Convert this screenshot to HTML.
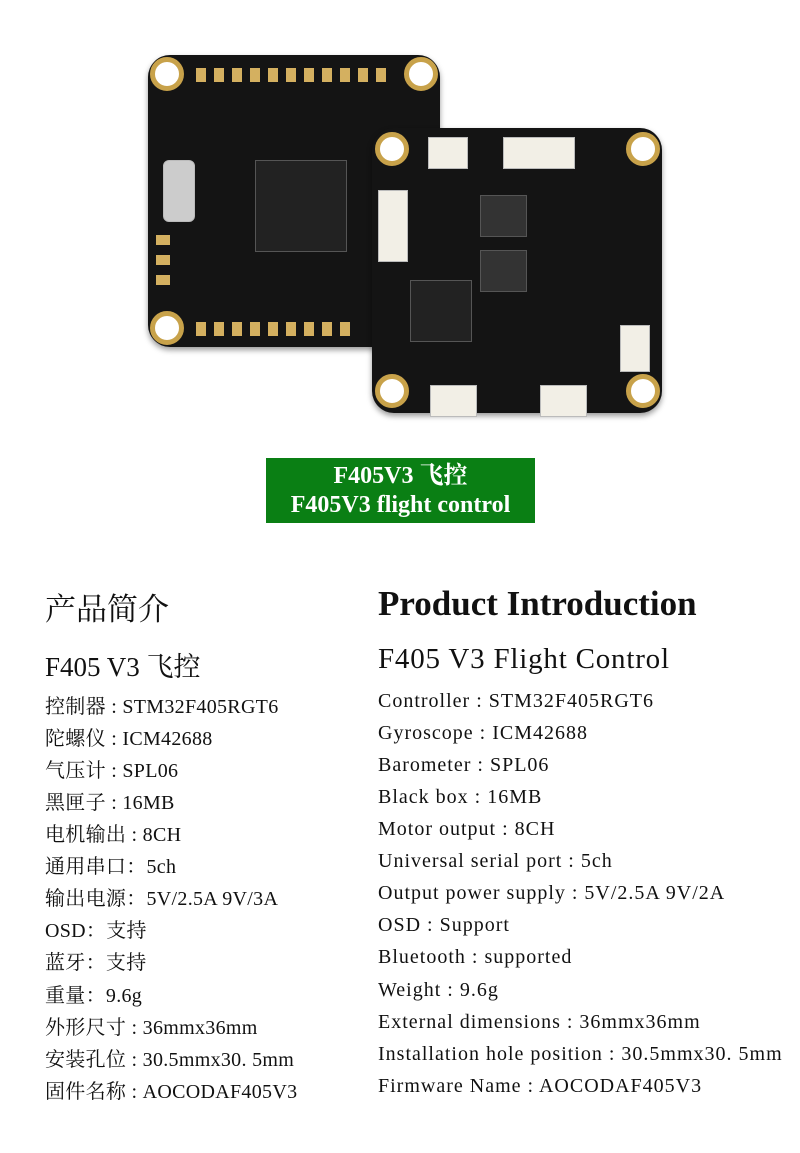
<!DOCTYPE html>
<html><head><meta charset="utf-8"><style>
body{margin:0;background:#fff;width:800px;height:1153px;position:relative;overflow:hidden;font-family:"Liberation Serif","Noto Serif CJK SC",serif;color:#111}
.a{position:absolute;white-space:nowrap}
.board{position:absolute;background:#141414;border-radius:22px;box-shadow:0 3px 6px rgba(0,0,0,.4)}
.hole{position:absolute;width:34px;height:34px;border-radius:50%;background:#fff;border:5px solid #c8a24a;box-sizing:border-box}
.pad{position:absolute;width:10px;height:14px;background:#d4b060}
.chip{position:absolute;background:#222;border:1px solid #555}
.conn{position:absolute;background:#f2efe6;border:1px solid #bbb}
.spec{font-size:20px;left:45px;letter-spacing:0.3px}
.spec2{font-size:20px;left:378px;letter-spacing:1px}
</style></head><body>
<div class="board" style="left:148px;top:55px;width:292px;height:292px"></div>
<div class="hole" style="left:150px;top:57px"></div>
<div class="hole" style="left:404px;top:57px"></div>
<div class="hole" style="left:150px;top:311px"></div>
<div class="pad" style="left:196px;top:68px"></div><div class="pad" style="left:214px;top:68px"></div><div class="pad" style="left:232px;top:68px"></div><div class="pad" style="left:250px;top:68px"></div><div class="pad" style="left:268px;top:68px"></div><div class="pad" style="left:286px;top:68px"></div><div class="pad" style="left:304px;top:68px"></div><div class="pad" style="left:322px;top:68px"></div><div class="pad" style="left:340px;top:68px"></div><div class="pad" style="left:358px;top:68px"></div><div class="pad" style="left:376px;top:68px"></div>
<div class="pad" style="left:196px;top:322px"></div><div class="pad" style="left:214px;top:322px"></div><div class="pad" style="left:232px;top:322px"></div><div class="pad" style="left:250px;top:322px"></div><div class="pad" style="left:268px;top:322px"></div><div class="pad" style="left:286px;top:322px"></div><div class="pad" style="left:304px;top:322px"></div><div class="pad" style="left:322px;top:322px"></div><div class="pad" style="left:340px;top:322px"></div>
<div class="pad" style="left:156px;top:235px;width:14px;height:10px"></div><div class="pad" style="left:156px;top:255px;width:14px;height:10px"></div><div class="pad" style="left:156px;top:275px;width:14px;height:10px"></div>
<div class="conn" style="left:163px;top:160px;width:30px;height:60px;background:#ccc;border-radius:6px"></div>
<div class="chip" style="left:255px;top:160px;width:90px;height:90px"></div>
<div class="board" style="left:372px;top:128px;width:290px;height:285px"></div>
<div class="hole" style="left:375px;top:132px"></div>
<div class="hole" style="left:626px;top:132px"></div>
<div class="hole" style="left:375px;top:374px"></div>
<div class="hole" style="left:626px;top:374px"></div>
<div class="conn" style="left:428px;top:137px;width:38px;height:30px"></div>
<div class="conn" style="left:503px;top:137px;width:70px;height:30px"></div>
<div class="conn" style="left:378px;top:190px;width:28px;height:70px"></div>
<div class="conn" style="left:620px;top:325px;width:28px;height:45px"></div>
<div class="conn" style="left:430px;top:385px;width:45px;height:30px"></div>
<div class="conn" style="left:540px;top:385px;width:45px;height:30px"></div>
<div class="chip" style="left:480px;top:195px;width:45px;height:40px;background:#333"></div>
<div class="chip" style="left:480px;top:250px;width:45px;height:40px;background:#333"></div>
<div class="chip" style="left:410px;top:280px;width:60px;height:60px"></div>
<div style="position:absolute;left:266px;top:458px;width:269px;height:65px;background:#0a7f14"></div>
<div class="a" style="left:266px;width:269px;top:462px;text-align:center;color:#fff;font-size:24px;line-height:29px;font-weight:bold">F405V3 飞控<br>F405V3 flight control</div>
<div class="a" style="left:45px;top:584px;font-size:31px">产品简介</div>
<div class="a" style="left:378px;top:584px;font-size:35px;font-weight:bold">Product Introduction</div>
<div class="a" style="left:45px;top:645px;font-size:27px">F405 V3 飞控</div>
<div class="a" style="left:378px;top:643px;font-size:29px;letter-spacing:0.8px">F405 V3 Flight Control</div>
<div class="a spec" style="top:690px">控制器 : STM32F405RGT6</div>
<div class="a spec" style="top:722px">陀螺仪 : ICM42688</div>
<div class="a spec" style="top:754px">气压计 : SPL06</div>
<div class="a spec" style="top:786px">黑匣子 : 16MB</div>
<div class="a spec" style="top:818px">电机输出 : 8CH</div>
<div class="a spec" style="top:850px">通用串口：5ch</div>
<div class="a spec" style="top:882px">输出电源：5V/2.5A 9V/3A</div>
<div class="a spec" style="top:914px">OSD：支持</div>
<div class="a spec" style="top:946px">蓝牙：支持</div>
<div class="a spec" style="top:979px">重量：9.6g</div>
<div class="a spec" style="top:1011px">外形尺寸 : 36mmx36mm</div>
<div class="a spec" style="top:1043px">安装孔位 : 30.5mmx30. 5mm</div>
<div class="a spec" style="top:1075px">固件名称 : AOCODAF405V3</div>
<div class="a spec2" style="top:690px">Controller : STM32F405RGT6</div>
<div class="a spec2" style="top:722px">Gyroscope : ICM42688</div>
<div class="a spec2" style="top:754px">Barometer : SPL06</div>
<div class="a spec2" style="top:786px">Black box : 16MB</div>
<div class="a spec2" style="top:818px">Motor output : 8CH</div>
<div class="a spec2" style="top:850px">Universal serial port : 5ch</div>
<div class="a spec2" style="top:882px">Output power supply : 5V/2.5A 9V/2A</div>
<div class="a spec2" style="top:914px">OSD : Support</div>
<div class="a spec2" style="top:946px">Bluetooth : supported</div>
<div class="a spec2" style="top:979px">Weight : 9.6g</div>
<div class="a spec2" style="top:1011px">External dimensions : 36mmx36mm</div>
<div class="a spec2" style="top:1043px">Installation hole position : 30.5mmx30. 5mm</div>
<div class="a spec2" style="top:1075px">Firmware Name : AOCODAF405V3</div>
</body></html>
